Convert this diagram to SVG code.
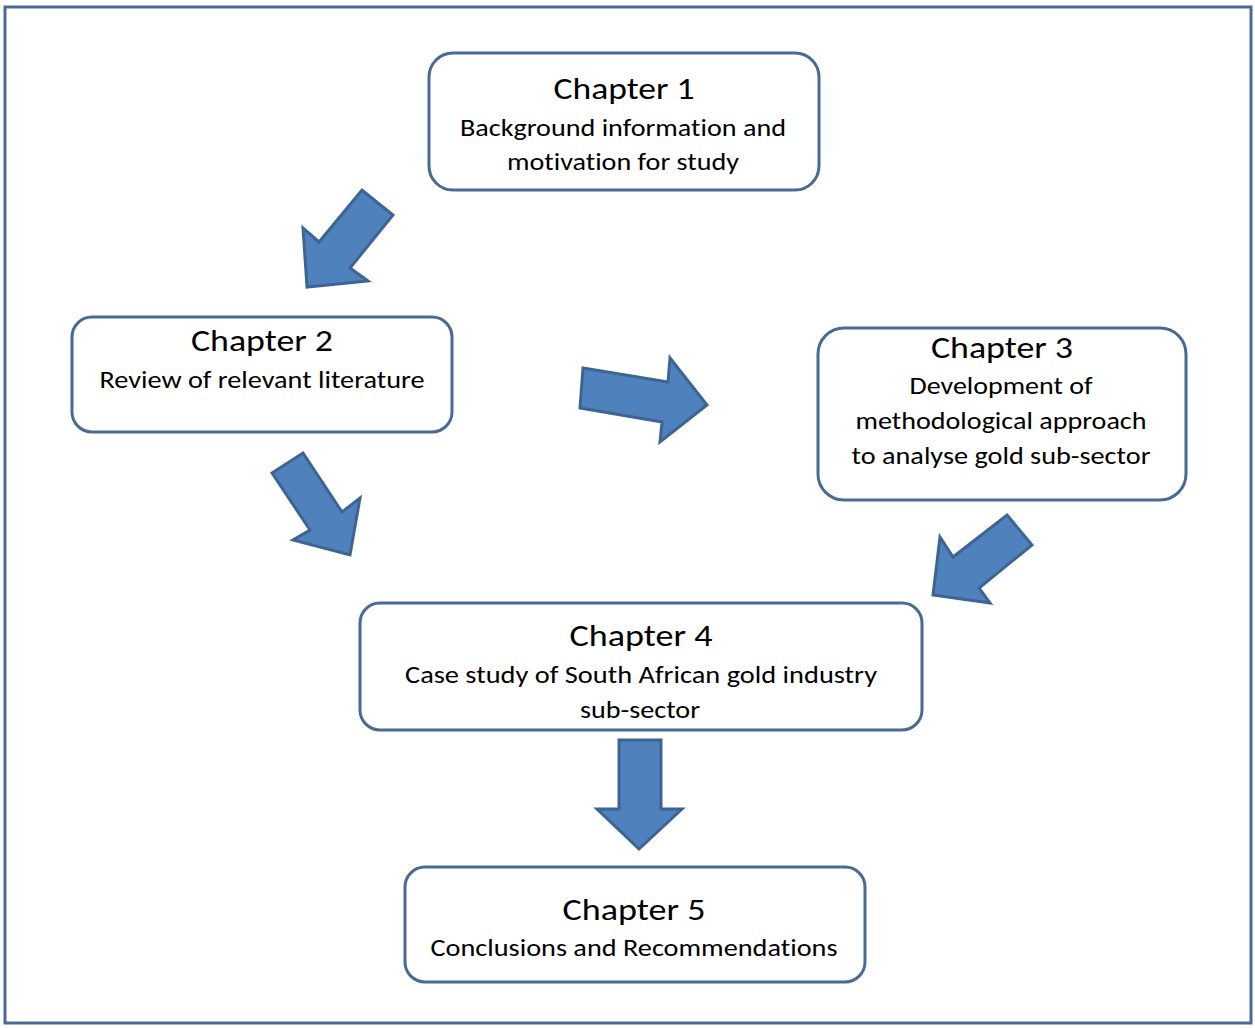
<svg xmlns="http://www.w3.org/2000/svg" width="1255" height="1028" viewBox="0 0 1255 1028">
<style>
.frame{fill:#fff;stroke:#4a6a96;stroke-width:3}
.box{fill:#fff;stroke:#4a6a96;stroke-width:3}
.arrow{fill:#4f81bd;stroke:#3d6594;stroke-width:3;stroke-linejoin:miter}
text{font-family:Carlito,Lato,"Liberation Sans",sans-serif;fill:#000;text-anchor:middle;font-variant-ligatures:none}
.t{font-size:31px}
.b{font-size:24px}
</style>
<rect class="frame" x="5" y="7" width="1246" height="1016"/>
<g id="connectors">
<polygon class="arrow" points="307,287 303,228 319,242 362,190 393,215 350,268 368,281"/>
<polygon class="arrow" points="583,368 668,382 670,358 707,405 660,442 662,422 580,408"/>
<polygon class="arrow" points="272,473 303,453 342,512 360,498 350,555 293,540 310,530"/>
<polygon class="arrow" points="1007,515 1032,545 979,588 990,603 933,595 940,537 953,557"/>
<polygon class="arrow" points="619,740 661,740 661,809 682,809 639,849 597,809 619,809"/>
</g>
<g id="chapter1">
<rect class="box" x="429" y="53" width="390" height="137" rx="24"/>
<text class="t" x="624" y="99" textLength="141" lengthAdjust="spacingAndGlyphs">Chapter 1</text>
<text class="b" x="623" y="136" textLength="326" lengthAdjust="spacingAndGlyphs">Background information and</text>
<text class="b" x="623" y="170" textLength="232" lengthAdjust="spacingAndGlyphs">motivation for study</text>
</g>
<g id="chapter2">
<rect class="box" x="72" y="317" width="380" height="115" rx="20"/>
<text class="t" x="262" y="351" textLength="142" lengthAdjust="spacingAndGlyphs">Chapter 2</text>
<text class="b" x="262" y="388" textLength="325" lengthAdjust="spacingAndGlyphs">Review of relevant literature</text>
</g>
<g id="chapter3">
<rect class="box" x="818" y="328" width="368" height="172" rx="26"/>
<text class="t" x="1002" y="358" textLength="142" lengthAdjust="spacingAndGlyphs">Chapter 3</text>
<text class="b" x="1001" y="394" textLength="183" lengthAdjust="spacingAndGlyphs">Development of</text>
<text class="b" x="1001" y="429" textLength="291" lengthAdjust="spacingAndGlyphs">methodological approach</text>
<text class="b" x="1001" y="464" textLength="299" lengthAdjust="spacingAndGlyphs">to analyse gold sub-sector</text>
</g>
<g id="chapter4">
<rect class="box" x="360" y="603" width="562" height="127" rx="20"/>
<text class="t" x="641" y="646" textLength="143" lengthAdjust="spacingAndGlyphs">Chapter 4</text>
<text class="b" x="641" y="683" textLength="472" lengthAdjust="spacingAndGlyphs">Case study of South African gold industry</text>
<text class="b" x="640" y="718" textLength="120" lengthAdjust="spacingAndGlyphs">sub-sector</text>
</g>
<g id="chapter5">
<rect class="box" x="405" y="867" width="460" height="115" rx="20"/>
<text class="t" x="634" y="920" textLength="143" lengthAdjust="spacingAndGlyphs">Chapter 5</text>
<text class="b" x="634" y="956" textLength="407" lengthAdjust="spacingAndGlyphs">Conclusions and Recommendations</text>
</g>
</svg>
